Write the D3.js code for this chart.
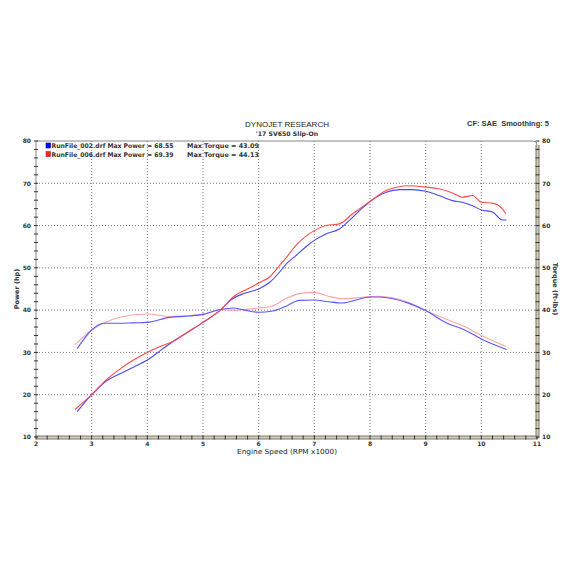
<!DOCTYPE html>
<html><head><meta charset="utf-8">
<script src="https://cdn.jsdelivr.net/npm/d3@7"></script>
<style>body{margin:0;background:#fff}svg{display:block}text{white-space:pre}</style>
</head><body>
<svg id="c" width="572" height="572"></svg>
<script>
const rpmTicks = [2,3,4,5,6,7,8,9,10,11];
const valTicks = [10,20,30,40,50,60,70,80];

const powerBlueRpm = [2.74,3.0,3.27,3.5,3.75,4.0,4.25,4.46,4.75,5.0,5.3,5.53,5.75,6.0,6.2,6.37,6.5,6.67,6.85,7.0,7.21,7.45,7.69,7.85,8.0,8.29,8.53,8.75,9.0,9.24,9.48,9.66,9.84,10.0,10.2,10.38,10.45];
const powerBlue    = [16.0,20.0,23.3,24.9,26.5,28.2,30.6,32.6,35.0,37.1,39.9,42.7,44.0,45.0,46.6,48.9,51.0,52.9,55.0,56.5,58.0,59.2,62.0,64.0,65.7,67.9,68.5,68.5,68.1,67.1,65.9,65.5,64.7,63.7,63.2,61.3,61.3];

const powerRedRpm = [2.7,3.0,3.27,3.5,3.75,4.0,4.25,4.46,4.75,5.0,5.3,5.57,5.8,6.0,6.2,6.37,6.5,6.67,6.85,7.0,7.21,7.45,7.69,8.0,8.29,8.53,8.65,9.0,9.24,9.48,9.66,9.84,10.0,10.2,10.38,10.44];
const powerRed    = [16.5,20.0,23.6,26.0,28.2,30.0,31.5,32.6,35.0,37.1,39.9,43.4,45.0,46.4,47.9,50.5,52.5,55.3,57.5,58.8,60.0,60.4,62.8,65.7,68.3,69.2,69.4,69.1,68.7,67.7,66.7,67.1,65.5,65.3,63.9,62.8];

const torqueBlueRpm = [2.74,3.0,3.21,3.51,3.75,4.0,4.4,4.75,5.0,5.3,5.54,5.75,6.0,6.25,6.5,6.73,7.0,7.25,7.51,7.75,8.0,8.17,8.41,8.7,9.0,9.36,9.72,10.0,10.2,10.45];
const torqueBlue    = [30.9,35.3,36.9,36.9,37.0,37.1,38.3,38.6,39.0,40.1,40.5,40.0,39.5,39.8,41.0,42.3,42.4,42.0,41.7,42.4,43.1,43.1,42.7,41.6,39.9,37.1,35.2,33.2,32.0,30.7];

const torqueRedRpm = [2.7,3.0,3.21,3.51,4.0,4.4,5.0,5.3,5.54,6.0,6.25,6.5,6.73,7.0,7.25,7.51,7.75,8.0,8.17,8.41,8.7,9.0,9.36,9.72,10.0,10.2,10.44];
const torqueRed    = [31.8,35.3,36.9,38.3,39.1,38.5,39.0,40.1,40.0,40.5,41.0,42.8,43.9,44.2,43.3,42.7,42.9,43.2,43.3,42.9,41.8,39.9,37.9,36.0,34.0,32.8,31.4];

const legendLines = ["RunFile_002.drf Max Power = 68.55","RunFile_006.drf Max Power = 69.39"];
const legendTorque = ["Max Torque = 43.09","Max Torque = 44.13"];

const svg = d3.select("#c");
const L=36, R=537, T=141, B=437;
const x = d3.scaleLinear().domain([2,11]).range([L,R]);
const y = d3.scaleLinear().domain([10,80]).range([B,T]);

// grid
svg.append("g").selectAll("line").data(rpmTicks.slice(1,-1)).join("line")
  .attr("x1",d=>x(d)).attr("x2",d=>x(d)).attr("y1",T).attr("y2",B)
  .attr("stroke","#555").attr("stroke-width",0.8).attr("stroke-dasharray","1,2");
svg.append("g").selectAll("line").data(valTicks.slice(1,-1)).join("line")
  .attr("y1",d=>y(d)).attr("y2",d=>y(d)).attr("x1",L).attr("x2",R)
  .attr("stroke","#555").attr("stroke-width",0.8).attr("stroke-dasharray","1,2");

// frame
svg.append("path").attr("d",`M${L},${B} L${L},${T} L${R-4},${T} Q${R},${T} ${R},${T+4}`)
  .attr("fill","none").attr("stroke","#888").attr("stroke-width",1);
svg.append("path").attr("d",`M${R+0.5},${T+4} L${R+0.5},${B-2} Q${R+0.5},${B+0.5} ${R-2},${B+0.5} L${L},${B+0.5}`)
  .attr("fill","none").attr("stroke","#7d7868").attr("stroke-width",4);
svg.append("path").attr("d",`M${R+0.5},${T+4} L${R+0.5},${B-2} Q${R+0.5},${B+0.5} ${R-2},${B+0.5} L${L},${B+0.5}`)
  .attr("fill","none").attr("stroke","#d2cdbd").attr("stroke-width",2);

// minor ticks
const minorY = d3.range(10,80.01,2);
svg.append("g").selectAll("line").data(minorY).join("line")
  .attr("x1",L-2).attr("x2",L+2).attr("y1",d=>y(d)).attr("y2",d=>y(d)).attr("stroke","#333");
svg.append("g").selectAll("line").data(minorY).join("line")
  .attr("x1",R-1.5).attr("x2",R+2.5).attr("y1",d=>y(d)).attr("y2",d=>y(d)).attr("stroke","#333");
const minorX = d3.range(2,11.001,0.2);
svg.append("g").selectAll("line").data(minorX).join("line")
  .attr("y1",B-1.5).attr("y2",B+2.5).attr("x1",d=>x(d)).attr("x2",d=>x(d)).attr("stroke","#333");

// tick labels
const tf = "'DejaVu Sans', Verdana, sans-serif";
svg.append("g").selectAll("text").data(valTicks).join("text")
  .attr("x",L-5).attr("y",d=>y(d)+2.3).attr("text-anchor","end")
  .attr("font-family",tf).attr("font-weight","bold").attr("font-size",6).attr("fill","#333").text(d=>d);
svg.append("g").selectAll("text").data(valTicks).join("text")
  .attr("x",R+5).attr("y",d=>y(d)+2.3).attr("text-anchor","start")
  .attr("font-family",tf).attr("font-weight","bold").attr("font-size",6).attr("fill","#333").text(d=>d);
svg.append("g").selectAll("text").data(rpmTicks).join("text")
  .attr("x",d=>x(d)).attr("y",B+8.5).attr("text-anchor","middle")
  .attr("font-family",tf).attr("font-weight","bold").attr("font-size",6).attr("fill","#333").text(d=>d);

// axis titles
svg.append("text").attr("x",287).attr("y",454).attr("text-anchor","middle")
  .attr("font-family",tf).attr("font-size",7).attr("fill","#222")
  .attr("textLength",100).attr("lengthAdjust","spacingAndGlyphs").text("Engine Speed (RPM x1000)");
svg.append("text").attr("transform","translate(19,289) rotate(-90)").attr("text-anchor","middle")
  .attr("font-family",tf).attr("font-weight","bold").attr("font-size",6.5).attr("fill","#333").text("Power (hp)");
svg.append("text").attr("transform","translate(553,289) rotate(90)").attr("text-anchor","middle")
  .attr("font-family",tf).attr("font-weight","bold").attr("font-size",6.5).attr("fill","#333").text("Torque (ft-lbs)");

// titles
const af = "'Liberation Sans', Arial, sans-serif";
svg.append("text").attr("x",287).attr("y",127).attr("text-anchor","middle")
  .attr("font-family",af).attr("font-size",8).attr("fill","#222").text("DYNOJET RESEARCH");
svg.append("text").attr("x",287).attr("y",136).attr("text-anchor","middle")
  .attr("font-family",tf).attr("font-weight","bold").attr("font-size",6.2).attr("fill","#333").text("'17 SV650 Slip-On");
svg.append("text").attr("x",467).attr("y",126)
  .attr("font-family",af).attr("font-weight","bold").attr("font-size",8).attr("fill","#333")
  .attr("textLength",82).attr("lengthAdjust","spacingAndGlyphs").text("CF: SAE  Smoothing: 5");

// curves
const line = d3.line().x(d=>x(d[0])).y(d=>y(d[1])).curve(d3.curveMonotoneX);
const series = [
  {r:torqueRedRpm, v:torqueRed, c:"#ffa5a5"},
  {r:torqueBlueRpm, v:torqueBlue, c:"#5a5aff"},
  {r:powerBlueRpm, v:powerBlue, c:"#4848ff"},
  {r:powerRedRpm, v:powerRed, c:"#ff4a4a"},
];
series.forEach(s=>{
  svg.append("path").datum(s.r.map((r,i)=>[r,s.v[i]])).attr("d",line)
    .attr("fill","none").attr("stroke",s.c).attr("stroke-width",1.1);
});

// legend
const legCols = ["#0000ff","#ff2020"];
legendLines.forEach((t,i)=>{
  const yy = 145.7 + i*8.6;
  svg.append("rect").attr("x",46).attr("y",yy-2.7).attr("width",4.5).attr("height",5)
    .attr("fill",legCols[i]).attr("stroke", i? "#993333":"#000088").attr("stroke-width",0.6);
  svg.append("text").attr("x",51.5).attr("y",yy+2.3).attr("font-family",tf).attr("font-weight","bold")
    .attr("font-size",6.4).attr("fill","#333")
    .attr("textLength",122).attr("lengthAdjust","spacingAndGlyphs").text(t);
  svg.append("text").attr("x",187).attr("y",yy+2.3).attr("font-family",tf).attr("font-weight","bold")
    .attr("font-size",6.4).attr("fill","#333")
    .attr("textLength",72).attr("lengthAdjust","spacingAndGlyphs").text(legendTorque[i]);
});
</script>
</body></html>
